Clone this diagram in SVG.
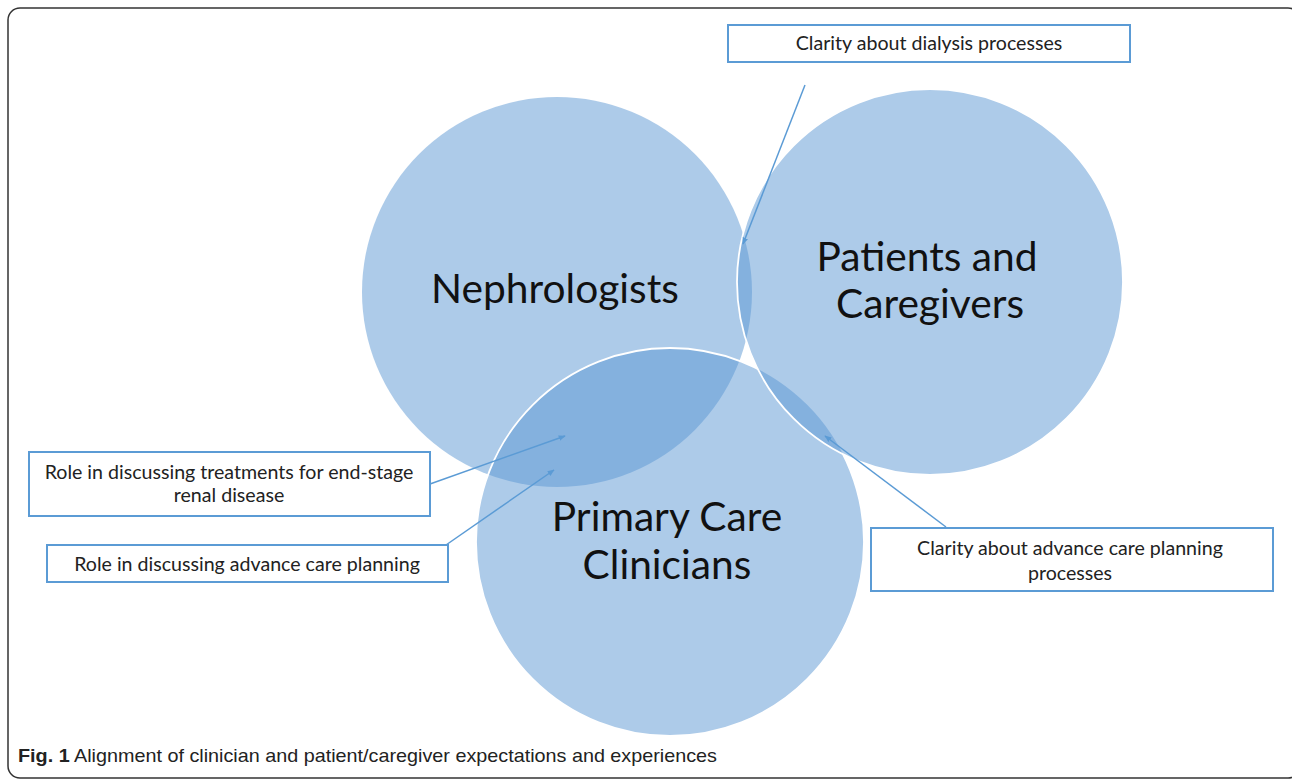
<svg xmlns="http://www.w3.org/2000/svg" width="1292" height="782" viewBox="0 0 1292 782">
<style>
.c{fill:#5B98D3;fill-opacity:0.5}
.ws{fill:none;stroke:#fff;stroke-width:1.8}
.big{font-family:Lato,"Open Sans",sans-serif;font-size:40.7px;fill:#111;text-anchor:middle}
.box{fill:#fff;stroke:#5B9BD5;stroke-width:2}
.lbl{font-family:Lato,"Open Sans",sans-serif;font-size:19.6px;fill:#222;text-anchor:middle}
.arr{fill:none;stroke:#5B9BD5;stroke-width:1.5;marker-end:url(#ah)}
</style>
<defs>
<marker id="ah" viewBox="0 0 10 10" refX="9" refY="5" markerWidth="7" markerHeight="7" orient="auto" markerUnits="userSpaceOnUse"><path d="M0,1 L10,5 L0,9 z" fill="#5B9BD5"/></marker>
<mask id="noPat"><rect x="0" y="0" width="1292" height="782" fill="#fff"/><circle cx="930" cy="282" r="193" fill="#000"/></mask>
</defs>
<rect x="8" y="8" width="1292" height="770" rx="12" fill="#fff" stroke="#333" stroke-width="1.5"/>
<g id="nephrologists">
<circle class="c" cx="557" cy="292" r="195"/>
<text class="big" x="555" y="303">Nephrologists</text>
</g>
<g id="primary-care">
<circle class="c" cx="670" cy="542" r="194"/>
<circle class="ws" cx="670" cy="542" r="194" mask="url(#noPat)"/>
<text class="big" x="667" y="531">Primary Care</text>
<text class="big" x="667" y="579">Clinicians</text>
</g>
<g id="patients">
<circle class="c" cx="930" cy="282" r="193"/>
<circle class="ws" cx="930" cy="282" r="193"/>
<text class="big" x="927" y="271">Patients and</text>
<text class="big" x="930" y="318">Caregivers</text>
</g>
<g id="box-dialysis">
<rect class="box" x="728" y="25" width="402" height="37"/>
<text class="lbl" x="929" y="50">Clarity about dialysis processes</text>
</g>
<g id="box-esrd">
<rect class="box" x="29" y="452" width="401" height="64"/>
<text class="lbl" x="229" y="479">Role in discussing treatments for end-stage</text>
<text class="lbl" x="229" y="502">renal disease</text>
</g>
<g id="box-acp-role">
<rect class="box" x="47" y="545" width="401" height="37"/>
<text class="lbl" x="247" y="571">Role in discussing advance care planning</text>
</g>
<g id="box-acp-clarity">
<rect class="box" x="871" y="528" width="402" height="63"/>
<text class="lbl" x="1070" y="555">Clarity about advance care planning</text>
<text class="lbl" x="1070" y="580">processes</text>
</g>
<g id="connectors">
<line class="arr" x1="805" y1="85" x2="743" y2="244"/>
<line class="arr" x1="430" y1="484" x2="565" y2="436"/>
<line class="arr" x1="446" y1="545" x2="554" y2="470"/>
<line class="arr" x1="946" y1="527" x2="825" y2="436"/>
</g>
<text x="18" y="762" font-family="'Liberation Sans',Arial,sans-serif" font-size="19" fill="#222" textLength="699" lengthAdjust="spacingAndGlyphs"><tspan font-weight="bold">Fig. 1</tspan> Alignment of clinician and patient/caregiver expectations and experiences</text>
</svg>
